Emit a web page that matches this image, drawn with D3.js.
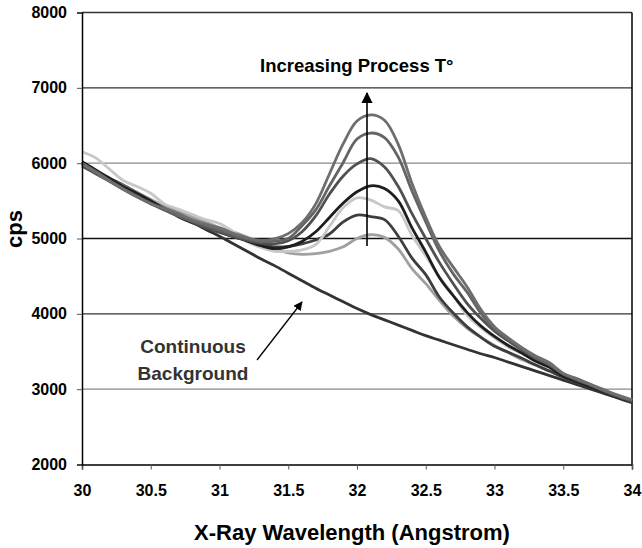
<!DOCTYPE html>
<html>
<head>
<meta charset="utf-8">
<script src="https://cdn.jsdelivr.net/npm/d3@7"></script>
<style>
  body { margin: 0; background: #fff; }
  svg { display: block; font-family: "Liberation Sans", Arial, sans-serif; }
</style>
</head>
<body>
<div id="chart"></div>
<script>
// wavelength grid (Angstrom), one reading every 0.1
var wavelengths = d3.range(0, 41).map(function(i) { return +(30 + i * 0.1).toFixed(1); });

// cps readings per run, from lowest to highest process T
var run1 = [5980,5880,5790,5700,5610,5520,5430,5360,5290,5220, 5145,5090,5020,4935,4860,4810,4790,4800,4830,4890, 5000,5050,5015,4860,4600,4400,4175,3970,3810,3690, 3580,3485,3390,3320,3240,3170,3095,3030,2965,2900,2850];
var run2 = [6010,5900,5780,5680,5580,5490,5400,5320,5240,5160, 5090,5025,4975,4925,4890,4895,4930,4980,5060,5220, 5310,5290,5250,5030,4740,4520,4220,4010,3830,3690, 3570,3490,3410,3320,3240,3160,3090,3020,2960,2890,2840];
var run3 = [6150,6070,5920,5770,5690,5600,5460,5390,5320,5250, 5200,5090,4960,4880,4830,4830,4850,4920,5160,5410, 5540,5510,5420,5370,5040,4770,4490,4250,3980,3820, 3680,3560,3470,3380,3300,3200,3120,3050,2980,2900,2850];
var run4 = [6020,5910,5800,5690,5600,5500,5390,5290,5210,5150, 5095,5035,4965,4905,4865,4890,4960,5090,5280,5470, 5620,5700,5665,5500,5140,4820,4480,4240,4020,3840, 3700,3580,3480,3370,3290,3170,3100,3030,2960,2890,2840];
var run5 = [5960,5860,5760,5660,5560,5470,5380,5300,5220,5140, 5080,5025,4975,4935,4930,4970,5090,5300,5590,5830, 5990,6060,5950,5690,5330,5000,4680,4400,4140,3940, 3770,3640,3520,3410,3320,3200,3120,3050,2970,2900,2840];
var run6 = [6000,5890,5770,5660,5560,5460,5380,5300,5230,5170, 5110,5050,4995,4960,4965,5000,5170,5380,5700,6010, 6320,6400,6340,6080,5630,5220,4830,4530,4290,4010, 3800,3660,3540,3420,3330,3200,3130,3060,2980,2910,2850];
var run7 = [5990,5880,5760,5650,5550,5460,5400,5330,5250,5190, 5140,5070,5010,4975,4995,5065,5210,5460,5860,6260, 6560,6640,6570,6250,5730,5280,4890,4620,4360,4060, 3830,3680,3550,3440,3350,3210,3140,3060,2990,2920,2860];

// continuous background
var background = [6000,5900,5800,5710,5610,5510,5420,5320,5220,5120, 5030,4930,4830,4730,4640,4540,4440,4340,4250,4160, 4070,3990,3920,3850,3780,3710,3650,3590,3530,3470, 3420,3360,3300,3240,3180,3120,3060,3000,2940,2880,2820];

var runs = [run1, run2, run3, run4, run5, run6, run7];
var runColors = ["#a0a0a0", "#3e3e3e", "#c8c8c8", "#1e1e1e", "#505050", "#646464", "#6e6e6e"];

var xTicks = [30, 30.5, 31, 31.5, 32, 32.5, 33, 33.5, 34];
var yTicks = [2000, 3000, 4000, 5000, 6000, 7000, 8000];
var gridColors = {3000: "#888", 4000: "#333", 5000: "#111", 6000: "#888", 7000: "#333", 8000: "#333"};

var width = 642, height = 548,
    margin = {top: 12.5, right: 10, bottom: 83.5, left: 82};

var svg = d3.select("#chart").append("svg")
  .attr("width", width)
  .attr("height", height);

var x = d3.scaleLinear().domain([30, 34]).range([margin.left, width - margin.right]);
var y = d3.scaleLinear().domain([2000, 8000]).range([height - margin.bottom, margin.top]);

// gridlines
svg.append("g")
  .selectAll("line")
  .data(yTicks.slice(1))
  .enter().append("line")
  .attr("x1", x(30)).attr("x2", x(34))
  .attr("y1", function(d) { return y(d); })
  .attr("y2", function(d) { return y(d); })
  .style("stroke", function(d) { return gridColors[d]; })
  .style("stroke-width", 1.3);

// right border
svg.append("line")
  .attr("x1", x(34)).attr("x2", x(34))
  .attr("y1", y(8000)).attr("y2", y(2000))
  .style("stroke", "#000").style("stroke-width", 1.5);

var line = d3.line()
  .x(function(d, i) { return x(wavelengths[i]); })
  .y(function(d) { return y(d); })
  .curve(d3.curveCatmullRom);

svg.append("path")
  .datum(background)
  .attr("d", line)
  .style("fill", "none")
  .style("stroke", "#333")
  .style("stroke-width", 2.8);

svg.selectAll(".run")
  .data(runs)
  .enter().append("path")
  .attr("class", "run")
  .attr("d", line)
  .style("fill", "none")
  .style("stroke", function(d, i) { return runColors[i]; })
  .style("stroke-width", 2.8)
  .style("stroke-linejoin", "round");

// axes
var xAxis = svg.append("g")
  .attr("transform", "translate(0," + y(2000) + ")")
  .call(d3.axisBottom(x).tickValues(xTicks).tickSize(5).tickPadding(15).tickFormat(d3.format("")));
var yAxis = svg.append("g")
  .attr("transform", "translate(" + x(30) + ",0)")
  .call(d3.axisLeft(y).tickValues(yTicks).tickSize(5).tickPadding(10).tickFormat(d3.format("")));

[xAxis, yAxis].forEach(function(g) {
  g.select(".domain").style("stroke", "#000").style("stroke-width", 1.5);
  g.selectAll(".tick line").style("stroke", "#555");
  g.selectAll(".tick text")
    .style("font-size", "16px")
    .style("font-weight", "bold")
    .style("fill", "#000");
});

// axis titles
svg.append("text")
  .attr("x", 352).attr("y", 540)
  .attr("text-anchor", "middle")
  .style("font-size", "22px").style("font-weight", "bold")
  .text("X-Ray Wavelength (Angstrom)");

svg.append("text")
  .attr("transform", "translate(22,229) rotate(-90)")
  .attr("text-anchor", "middle")
  .style("font-size", "22px").style("font-weight", "bold")
  .text("cps");

// arrowheads
svg.append("defs").append("marker")
  .attr("id", "head")
  .attr("viewBox", "0 0 10 10")
  .attr("refX", 9).attr("refY", 5)
  .attr("markerWidth", 7).attr("markerHeight", 7)
  .attr("orient", "auto")
  .append("path")
  .attr("d", "M0,0L10,5L0,10z")
  .style("fill", "#000");

// increasing T annotation
svg.append("line")
  .attr("x1", 367).attr("x2", 367)
  .attr("y1", 246).attr("y2", 93)
  .style("stroke", "#000").style("stroke-width", 1.6)
  .attr("marker-end", "url(#head)");

svg.append("text")
  .attr("x", 260).attr("y", 72)
  .style("font-size", "18.5px").style("font-weight", "bold")
  .text("Increasing Process T°");

// background annotation
svg.append("line")
  .attr("x1", 257).attr("y1", 360)
  .attr("x2", 302).attr("y2", 302)
  .style("stroke", "#000").style("stroke-width", 1.3)
  .attr("marker-end", "url(#head)");

var bgLabel = svg.append("text")
  .attr("text-anchor", "middle")
  .style("font-size", "19px").style("font-weight", "bold")
  .style("fill", "#333");
bgLabel.append("tspan").attr("x", 193).attr("y", 353).text("Continuous");
bgLabel.append("tspan").attr("x", 193).attr("y", 380).text("Background");
</script>
</body>
</html>
